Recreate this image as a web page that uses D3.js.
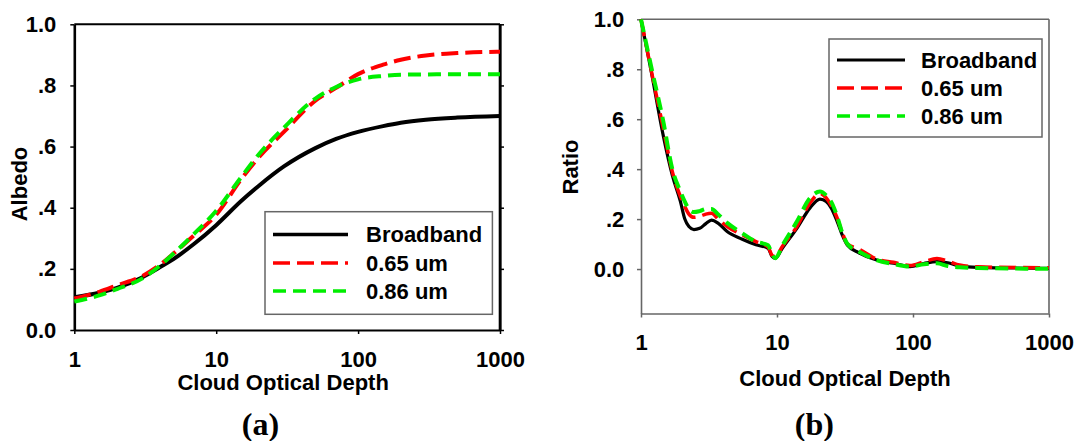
<!DOCTYPE html>
<html>
<head>
<meta charset="utf-8">
<script src="https://cdn.jsdelivr.net/npm/d3@7"></script>
<style>
    body { margin: 0; background: #fff; }
    text { font-family: "Liberation Sans", Arial, sans-serif; font-weight: bold; fill: #000; }
    .panel-label { font-family: "Liberation Serif", "Times New Roman", serif; }
</style>
</head>
<body>
<svg id="fig" width="1074" height="441"></svg>
<script>
// ---- data ----
var depthTicks = [1, 10, 100, 1000];
var yTicks = [0, 0.2, 0.4, 0.6, 0.8, 1.0];
var seriesNames = ["Broadband", "0.65 um", "0.86 um"];

// panel (a): albedo vs cloud optical depth
var albedoDepth     = [1, 1.5, 2, 3, 4, 5, 7, 10, 15, 20, 30, 50, 70, 100, 150, 200, 300, 500, 1000];
var albedoBroadband = [0.107, 0.122, 0.138, 0.172, 0.205, 0.232, 0.282, 0.343, 0.422, 0.472, 0.535, 0.595, 0.625, 0.648, 0.667, 0.678, 0.688, 0.695, 0.700];
var albedo065       = [0.103, 0.125, 0.146, 0.176, 0.213, 0.25, 0.31, 0.377, 0.493, 0.565, 0.648, 0.75, 0.792, 0.837, 0.868, 0.884, 0.898, 0.906, 0.910];
var albedo086       = [0.093, 0.113, 0.134, 0.168, 0.21, 0.25, 0.315, 0.39, 0.5, 0.575, 0.662, 0.757, 0.795, 0.82, 0.831, 0.835, 0.836, 0.837, 0.837];

// panel (b): ratio vs cloud optical depth
var ratioDepth     = [1, 1.2, 1.45, 1.7, 1.95, 2.1, 2.25, 2.45, 2.7, 3, 3.3, 3.7, 4.3, 5.5, 7, 8.6, 9.2, 9.7, 11, 14, 17.5, 20.7, 23, 25, 27.5, 30, 33, 40, 54, 72, 95, 120, 150, 180, 220, 300, 1000];
var ratioBroadband = [1.0, 0.78, 0.54, 0.375, 0.27, 0.2, 0.17, 0.158, 0.163, 0.182, 0.196, 0.183, 0.15, 0.12, 0.097, 0.083, 0.05, 0.043, 0.085, 0.163, 0.245, 0.28, 0.27, 0.245, 0.195, 0.14, 0.095, 0.065, 0.036, 0.023, 0.01, 0.022, 0.03, 0.025, 0.012, 0.007, 0.003];
var ratio065       = [1.0, 0.785, 0.57, 0.39, 0.29, 0.25, 0.22, 0.207, 0.211, 0.22, 0.223, 0.2, 0.17, 0.138, 0.11, 0.088, 0.055, 0.05, 0.092, 0.17, 0.265, 0.303, 0.285, 0.255, 0.209, 0.15, 0.1, 0.08, 0.04, 0.027, 0.014, 0.029, 0.042, 0.032, 0.016, 0.009, 0.005];
var ratio086       = [1.0, 0.80, 0.598, 0.40, 0.31, 0.27, 0.24, 0.228, 0.232, 0.24, 0.24, 0.218, 0.185, 0.145, 0.11, 0.095, 0.06, 0.043, 0.096, 0.19, 0.285, 0.31, 0.295, 0.27, 0.216, 0.15, 0.1, 0.07, 0.036, 0.02, 0.01, 0.019, 0.023, 0.012, 0.007, 0.004, 0.001];

var svg = d3.select("#fig");

function tickFmt(d) {
    if (d === 0) return "0.0";
    if (d === 1) return "1.0";
    return d3.format(".1f")(d).replace(/^0/, "");
}

function drawPanel(opt) {
    var g = svg.append("g");
    var x = d3.scaleLog().domain([1, 1000]).range([opt.left, opt.right]);
    var y = d3.scaleLinear().domain(opt.yDomain).range([opt.bottom, opt.top]);

    // frame: top and right edges
    g.append("line").attr("x1", opt.left).attr("x2", opt.right)
        .attr("y1", opt.top).attr("y2", opt.top)
        .attr("stroke", opt.frameColor).attr("stroke-width", opt.frameWidth);
    g.append("line").attr("x1", opt.right).attr("x2", opt.right)
        .attr("y1", opt.top).attr("y2", opt.bottom)
        .attr("stroke", opt.frameColor).attr("stroke-width", opt.rightWidth);

    g.append("g")
        .attr("transform", "translate(0," + opt.bottom + ")")
        .call(d3.axisBottom(x).tickValues(depthTicks).tickFormat(d3.format("d"))
            .tickSize(4).tickSizeOuter(0).tickPadding(opt.xPad));
    var yAxis = g.append("g")
        .attr("transform", "translate(" + opt.left + ",0)")
        .call(d3.axisLeft(y).tickValues(yTicks).tickFormat(tickFmt)
            .tickSize(4).tickSizeOuter(0).tickPadding(opt.yPad));

    if (opt.rightTicks) {
        g.append("g")
            .attr("transform", "translate(" + opt.right + ",0)")
            .call(d3.axisRight(y).tickValues(yTicks).tickFormat("")
                .tickSize(4).tickSizeOuter(0));
    }

    g.selectAll(".domain").attr("stroke", opt.frameColor).attr("stroke-width", opt.frameWidth);
    g.selectAll(".tick line").attr("stroke", opt.frameColor).attr("stroke-width", 1.5);
    yAxis.select(".domain").attr("stroke-width", opt.rightWidth);
    g.selectAll(".tick text").attr("font-size", 22)
        .attr("font-family", "Liberation Sans, Arial, sans-serif").attr("font-weight", "bold").attr("fill", "#000");

    // axis titles
    g.append("text")
        .attr("x", (opt.left + opt.right) / 2 - opt.titleShift)
        .attr("y", opt.xTitleY)
        .attr("text-anchor", "middle")
        .attr("font-size", 22)
        .text("Cloud Optical Depth");
    g.append("text")
        .attr("transform", "translate(" + opt.yTitleX + "," + opt.yTitleY + ") rotate(-90)")
        .attr("text-anchor", "middle")
        .attr("dy", "0.35em")
        .attr("font-size", 22)
        .text(opt.yTitle);
    g.append("text")
        .attr("class", "panel-label")
        .attr("x", opt.labelX).attr("y", 435)
        .attr("text-anchor", "middle")
        .attr("font-size", 32)
        .text(opt.label);

    // curves
    var line = d3.line()
        .x(function(d) { return x(d[0]); })
        .y(function(d) { return y(d[1]); })
        .curve(d3.curveMonotoneX);

    opt.series.forEach(function(s, i) {
        var pts = opt.depth.map(function(v, j) { return [v, s[j]]; });
        g.append("path")
            .datum(pts)
            .attr("fill", "none")
            .attr("stroke", opt.colors[i])
            .attr("stroke-width", opt.widths[i])
            .attr("stroke-dasharray", opt.dashes[i])
            .attr("d", line);
    });

    // legend
    var lg = opt.legend;
    g.append("rect")
        .attr("x", lg.x).attr("y", lg.y)
        .attr("width", lg.w).attr("height", lg.h)
        .attr("fill", "#fff").attr("stroke", "#666").attr("stroke-width", 1.5);
    seriesNames.forEach(function(name, i) {
        var ry = lg.rows[i];
        g.append("line")
            .attr("x1", lg.lineX1).attr("x2", lg.lineX2)
            .attr("y1", ry).attr("y2", ry)
            .attr("stroke", opt.colors[i])
            .attr("stroke-width", opt.legendWidths[i])
            .attr("stroke-dasharray", opt.dashes[i]);
        g.append("text")
            .attr("x", lg.textX).attr("y", ry)
            .attr("dy", "0.35em")
            .attr("font-size", 22)
            .text(name);
    });
}

drawPanel({
    left: 74.3, right: 500, top: 24.3, bottom: 330,
    yDomain: [0, 1],
    frameColor: "#000", frameWidth: 2, rightWidth: 2.6,
    rightTicks: true, yPad: 14, xPad: 17.4,
    xTitleY: 390, titleShift: 4,
    yTitle: "Albedo", yTitleX: 19, yTitleY: 184,
    label: "(a)", labelX: 260.5,
    depth: albedoDepth,
    series: [albedoBroadband, albedo065, albedo086],
    colors: ["#000", "#ff0000", "#00ee00"],
    widths: [4, 4, 4],
    legendWidths: [3.5, 3.5, 3.5],
    dashes: [null, "17,7", "13,7"],
    legend: { x: 265, y: 211.7, w: 227.4, h: 102.6, lineX1: 273, lineX2: 348, textX: 366, rows: [234.5, 263, 291] }
});

drawPanel({
    left: 641, right: 1049, top: 19.3, bottom: 313.5,
    yDomain: [-0.178, 1],
    frameColor: "#666", frameWidth: 1.6, rightWidth: 1.6,
    rightTicks: false, yPad: 12.7, xPad: 16.9,
    xTitleY: 386, titleShift: 0,
    yTitle: "Ratio", yTitleX: 570.6, yTitleY: 167,
    label: "(b)", labelX: 814.4,
    depth: ratioDepth,
    series: [ratioBroadband, ratio065, ratio086],
    colors: ["#000", "#ff0000", "#00ee00"],
    widths: [3.2, 3.5, 4],
    legendWidths: [3, 3.5, 3.5],
    dashes: [null, "17,7", "13,7"],
    legend: { x: 829, y: 39, w: 213, h: 98, lineX1: 837, lineX2: 905, textX: 921, rows: [60, 88, 116] }
});
</script>
</body>
</html>
